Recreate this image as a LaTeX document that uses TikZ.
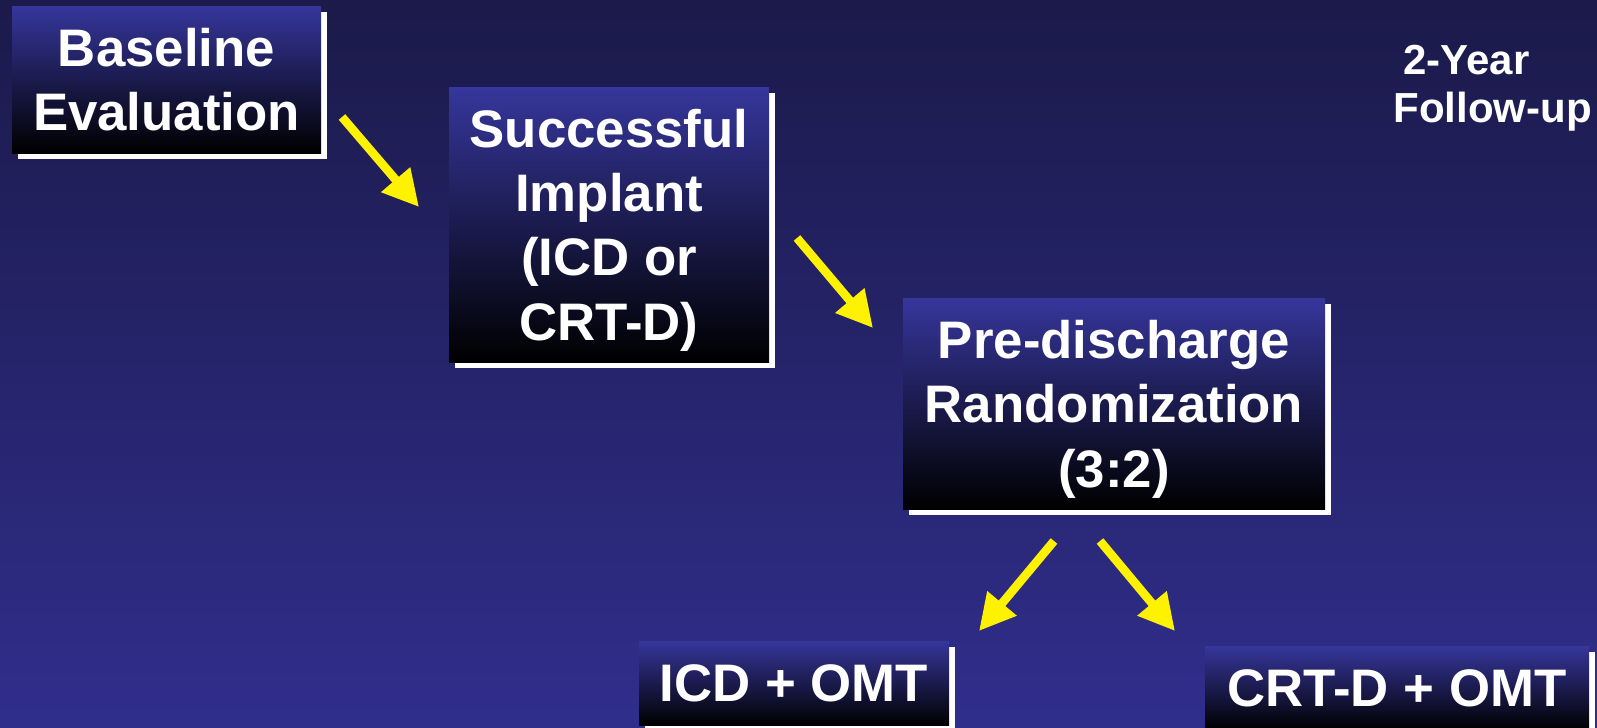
\documentclass[tikz,border=0pt]{standalone}
\usepackage{fontspec}
\setmainfont{Liberation Sans}
\usetikzlibrary{arrows.meta,shadows}
\definecolor{bgtop}{HTML}{1B1A4A}
\definecolor{bgbot}{HTML}{302E8C}
\definecolor{boxtop}{HTML}{36369C}
\tikzset{  stage/.style={inner sep=0pt,text depth=0pt,top color=boxtop,bottom color=black,align=center,text=white,font=\fontsize{26.4}{32.2}\selectfont\bfseries,drop shadow={fill=white,opacity=1,shadow xshift=3pt,shadow yshift=-3pt}} }
\tikzset{  note/.style={inner sep=0pt,align=left,text=white,font=\fontsize{21}{24}\selectfont\bfseries} }

\begin{document}
\begin{tikzpicture}[x=0.5pt,y=-0.5pt,>={Triangle[length=18pt,width=18pt]}]
  \useasboundingbox (0,0) rectangle (1597,728);
  \clip (0,0) rectangle (1597,728);
  \shade[top color=bgtop,bottom color=bgbot] (0,0) rectangle (1597,728);
  \node[stage,minimum width=154.5pt,minimum height=73.5pt] (base) at (166.5,79.5) {Baseline\\Evaluation};
  \node[stage,minimum width=160pt,minimum height=137.5pt] (impl) at (609,224.5) {Successful\\Implant\\(ICD or\\CRT-D)};
  \node[stage,minimum width=211pt,minimum height=105.5pt] (rand) at (1114,403.5) {Pre-discharge\\Randomization\\(3:2)};
  \node[stage,minimum width=155pt,minimum height=42pt] (icd) at (794,683) {ICD + OMT};
  \node[stage,minimum width=192pt,minimum height=42pt] (crtd) at (1397,688) {CRT-D + OMT};
  \node[note,anchor=north west] (fu) at (1393,45) {\hspace*{5pt}2-Year\\Follow-up};
  \coordinate (a1s) at (342,117);
  \coordinate (a1e) at (419,207);
  \coordinate (a2s) at (797,238);
  \coordinate (a2e) at (873,328);
  \coordinate (a3s) at (1054,541);
  \coordinate (a3e) at (979,631);
  \coordinate (a4s) at (1100,541);
  \coordinate (a4e) at (1175,631);
  \draw[->,yellow,line width=4.3pt] (a1s) -- (a1e);
  \draw[->,yellow,line width=4.3pt] (a2s) -- (a2e);
  \draw[->,yellow,line width=4.3pt] (a3s) -- (a3e);
  \draw[->,yellow,line width=4.3pt] (a4s) -- (a4e);
\end{tikzpicture}
\end{document}
